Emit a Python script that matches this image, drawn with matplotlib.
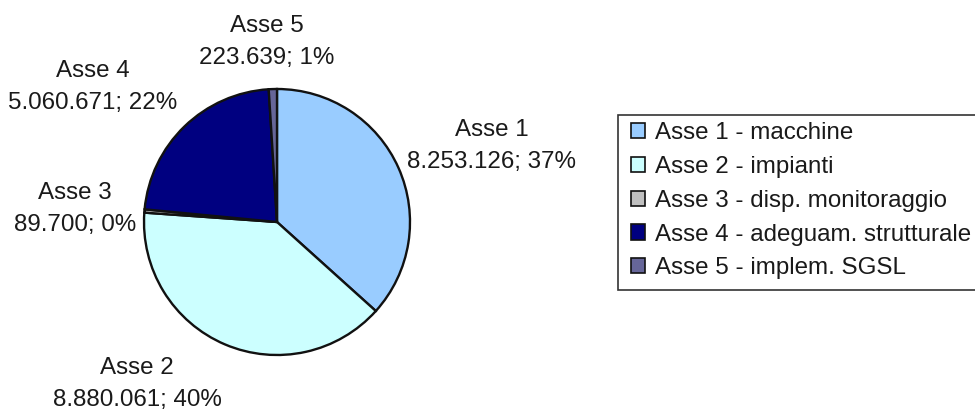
import matplotlib
matplotlib.use("Agg")
import matplotlib.pyplot as plt
from matplotlib.patches import Patch, Rectangle

plt.rcParams['font.family'] = ['Liberation Sans', 'DejaVu Sans']

categories = ["Asse 1", "Asse 2", "Asse 3", "Asse 4", "Asse 5"]
legend_labels = ["Asse 1 - macchine", "Asse 2 - impianti", "Asse 3 - disp. monitoraggio",
                 "Asse 4 - adeguam. strutturale", "Asse 5 - implem. SGSL"]
values = [8253126, 8880061, 89700, 5060671, 223639]
value_text = ["8.253.126", "8.880.061", "89.700", "5.060.671", "223.639"]
pct_text = ["37%", "40%", "0%", "22%", "1%"]
colors = ["#99CCFF", "#CCFFFF", "#C0C0C0", "#000080", "#666699"]

W, H = 975, 412
FS = 17.4
fig = plt.figure(figsize=(W / 100, H / 100), dpi=100)
cx, cy, r = 277, 222, 133
ax = fig.add_axes([(cx - r) / W, (H - cy - r) / H, 2 * r / W, 2 * r / H])
wedges, _ = ax.pie(values, colors=colors, startangle=90, counterclock=False,
                   wedgeprops=dict(edgecolor="#111111", linewidth=1.7))
ax.set_xlim(-1, 1)
ax.set_ylim(-1, 1)
ax.set_aspect('equal')
ax.axis('off')

# label positions in figure pixels
label_pos = [(492, 146), (137, 384), (75, 209), (93, 87), (267, 42)]
for name, vt, pt, (px, py) in zip(categories, value_text, pct_text, label_pos):
    fig.text(px / W, 1 - py / H, f"{name}\n{vt}; {pt}", ha='center', va='center',
             fontsize=FS, color='#1a1a1a', linespacing=1.6)

# legend frame (extends beyond right edge as in the reference)
fig.add_artist(Rectangle((618 / W, 1 - 290 / H), 400 / W, 175 / H,
                         transform=fig.transFigure, facecolor='white',
                         edgecolor='#333333', linewidth=1.2, zorder=1))

handles = [Patch(facecolor=c, edgecolor='#111111', linewidth=1.2) for c in colors]
leg = fig.legend(handles, legend_labels, loc='upper left',
                 bbox_to_anchor=(631 / W, 1 - 122 / H), fontsize=FS,
                 frameon=False, handlelength=0.58, handleheight=0.58,
                 handletextpad=0.42, borderpad=0, labelspacing=0.49,
                 borderaxespad=0)
leg.set_zorder(2)
for t in leg.get_texts():
    t.set_color('#1a1a1a')

fig.savefig("out.png", dpi=100)
